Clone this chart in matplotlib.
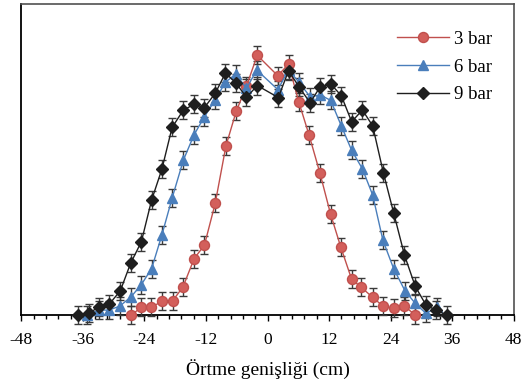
import matplotlib
matplotlib.use("Agg")
import matplotlib.pyplot as plt
from matplotlib.ticker import MultipleLocator

plt.rcParams['font.family'] = ['Liberation Serif', 'DejaVu Serif']
plt.rcParams['axes.unicode_minus'] = False

# 3 bar
x3 = [-26.6, -24.6, -22.7, -20.5, -18.5, -16.5, -14.3, -12.3, -10.2, -8.1, -6.1, -4.1,
      -2.0, 2.0, 4.1, 6.1, 8.1, 10.2, 12.3, 14.3, 16.4, 18.3, 20.5, 22.5, 24.6, 26.7, 28.8]
y3 = [0, 7.7, 7.7, 14, 14.3, 28, 56.5, 70, 111.7, 169.3, 203.8, 229,
      259.7, 239.3, 251, 213, 180, 142.3, 100.8, 67.7, 35.8, 27.7, 17.7, 9, 6.7, 9, 0]

# 6 bar
x6 = [-35.1, -32.9, -30.9, -28.8, -26.6, -24.6, -22.6, -20.6, -18.6, -16.4, -14.3, -12.3,
      -10.2, -8.2, -6.2, -4.1, -2.1, 2.0, 4.1, 6.1, 8.3, 10.3, 12.3, 14.4, 16.4, 18.5,
      20.5, 22.5, 24.6, 26.8, 28.8, 30.9, 33.0]
y6 = [0, 5, 5, 9, 18.3, 30.5, 46.5, 80, 117, 155, 180.5, 198.3,
      215.3, 232.8, 241, 226.7, 245, 225.5, 245, 233, 218.3, 220, 214.7, 189, 164.7, 146.2,
      120, 74.7, 46.3, 24.3, 11.7, 1.7, 7.7]

# 9 bar
x9 = [-36.9, -34.9, -32.9, -30.9, -28.7, -26.7, -24.6, -22.6, -20.6, -18.6, -16.4, -14.3,
      -12.3, -10.2, -8.2, -6.2, -4.1, -2.0, 2.1, 4.1, 6.2, 8.3, 10.2, 12.3, 14.4, 16.4,
      18.5, 20.5, 22.6, 24.6, 26.7, 28.8, 30.9, 32.9, 35.0]
y9 = [0, 2, 7.7, 10.7, 24.3, 51.7, 73.3, 115, 145.8, 187.7, 205, 210.7,
      207.5, 221.7, 242, 232.3, 217.7, 229.5, 217.5, 244.3, 227.7, 212.3, 227.7, 231.3, 219.2, 193.3,
      205, 189.2, 142, 102, 60, 28.7, 10, 4.7, 0]

ERR = 9

fig = plt.figure(figsize=(5.24, 3.89), dpi=100)
ax = fig.add_axes([0.0407, 0.190, 0.9397, 0.7997])

series = [
    (x3, y3, "3 bar", "o", 7.2, "#d35f5b", "#c0504d"),
    (x6, y6, "6 bar", "^", 7.5, "#4a7ebb", "#4a7ebb"),
    (x9, y9, "9 bar", "D", 5.8, "#1e1e1e", "#1e1e1e"),
]
for x, y, lab, mk, ms, fc, lc in series:
    ax.errorbar(x, y, yerr=ERR, fmt=mk + "-", color=lc, mfc=fc, mec=lc, ms=ms, lw=1.0,
                ecolor="#3a3a3a", elinewidth=1.0, capsize=3, capthick=1.0,
                label=lab, clip_on=False, zorder=3)

ax.set_xlim(-48, 48)
ax.set_ylim(0, 311)
ax.xaxis.set_major_locator(MultipleLocator(12))
ax.xaxis.set_minor_locator(MultipleLocator(2.4))
ax.set_yticks([])
ax.tick_params(axis="x", which="major", direction="out", length=4, width=1, labelsize=12.5, pad=8)
ax.tick_params(axis="x", which="minor", direction="out", length=3, width=1)

for s in ["left", "bottom"]:
    ax.spines[s].set_linewidth(1.3)
    ax.spines[s].set_color("black")
for s in ["top", "right"]:
    ax.spines[s].set_linewidth(1.2)
    ax.spines[s].set_color("#505050")

ax.set_xlabel("Örtme genişliği (cm)", fontsize=14, labelpad=8)

handles, labels = ax.get_legend_handles_labels()
handles = [h[0] for h in handles]
ax.legend(handles, labels, loc="upper left", bbox_to_anchor=(0.763, 0.914), frameon=False,
          fontsize=13.5, handlelength=2.77, handletextpad=0.27, labelspacing=0.56,
          borderpad=0, borderaxespad=0, numpoints=1)

fig.savefig("out.png", dpi=100)
